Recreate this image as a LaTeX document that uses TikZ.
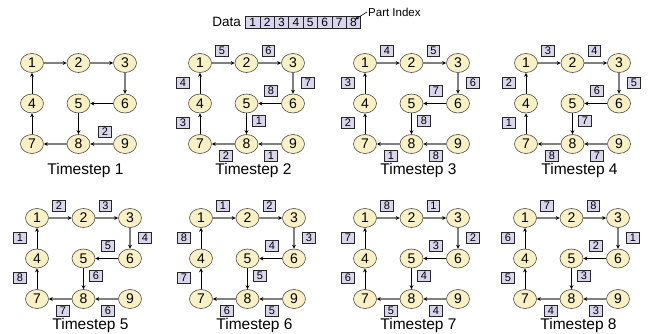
\documentclass[tikz,border=0pt]{standalone}
\usepackage{fontspec}
\setmainfont{Liberation Sans}
\usetikzlibrary{arrows.meta,shapes.geometric}
\definecolor{nodefill}{HTML}{F9F0C4}
\definecolor{boxfill}{HTML}{D9D5EC}
\tikzset{
  vtx/.style={ellipse, draw=black!70, fill=nodefill, line width=0.6pt,
    minimum width=23pt, minimum height=19pt, inner sep=0pt,
    font=\fontsize{14}{14}\selectfont},
  part/.style={draw=black!85, fill=boxfill, line width=0.6pt,
    minimum width=12.5pt, minimum height=10.5pt, inner sep=0pt,
    font=\fontsize{11}{11}\selectfont},
  dpart/.style={part, minimum width=14.4pt, minimum height=12pt,
    font=\fontsize{12}{12}\selectfont},
  gedge/.style={draw=black!50, line width=1.4pt,
    -{Stealth[black,length=4pt,width=4pt]}},
  bedge/.style={draw=black, line width=0.8pt,
    -{Stealth[black,length=4pt,width=4pt]}},
  ttl/.style={font=\fontsize{15.5}{16}\selectfont, inner sep=0pt},
}
\newcommand\mypanel[4]{%
  \gdef\curid{#1}\gdef\curx{#2}\gdef\cury{#3}%
  \begin{scope}[shift={(#2,#3)}]
    \node[vtx] (#1n1) at (0,0) {1};
    \node[vtx] (#1n2) at (46.5,0) {2};
    \node[vtx] (#1n3) at (93,0) {3};
    \node[vtx] (#1n4) at (0,40.5) {4};
    \node[vtx] (#1n5) at (46.5,40.5) {5};
    \node[vtx] (#1n6) at (93,40.5) {6};
    \node[vtx] (#1n7) at (0,81) {7};
    \node[vtx] (#1n8) at (46.5,81) {8};
    \node[vtx] (#1n9) at (93,81) {9};
    \draw[gedge] (#1n1) -- (#1n2);
    \draw[gedge] (#1n2) -- (#1n3);
    \draw[gedge] (#1n3) -- (#1n6);
    \draw[bedge] (#1n6) -- (#1n5);
    \draw[bedge] (#1n5) -- (#1n8);
    \draw[gedge] (#1n9) -- (#1n8);
    \draw[gedge] (#1n8) -- (#1n7);
    \draw[bedge] (#1n7) -- (#1n4);
    \draw[bedge] (#1n4) -- (#1n1);
    \node[ttl] (#1t) at (53.5,107.5) {Timestep #4};
  \end{scope}}
\newcommand\mylabels[9]{%
  \begin{scope}[shift={(\curx,\cury)}]
    \node[part] (\curid la) at (22,-12) {#1};
    \node[part] (\curid lb) at (68.5,-12) {#2};
    \node[part] (\curid lc) at (108,20) {#3};
    \node[part] (\curid ld) at (71,28) {#4};
    \node[part] (\curid le) at (-17,20) {#5};
    \node[part] (\curid lf) at (-17,60) {#6};
    \node[part] (\curid lg) at (59,58) {#7};
    \node[part] (\curid lh) at (26,93) {#8};
    \node[part] (\curid li) at (71,93) {#9};
  \end{scope}}
\begin{document}
\begin{tikzpicture}[x=1pt,y=-1pt]
\useasboundingbox (0,0) rectangle (649,334);
% data bar
\node[font=\fontsize{13.5}{14}\selectfont, anchor=east, inner sep=0pt] (data) at (241,22) {Data};
\foreach \i in {1,...,8} {
  \node[dpart] (d\i) at ({245.5+14.4*\i-7.2},22) {\i};
}
\node[font=\fontsize{11.5}{12}\selectfont, anchor=west, inner sep=1pt] (pidx) at (367,12) {Part Index};
\coordinate (ptip) at (355,19.5);
\draw[line width=0.6pt, -{Stealth[length=4pt,width=3.5pt]}] (pidx.west) -- (ptip);
% panels
\mypanel{pa}{32}{63}{1}
\node[part] (pal) at (105,132) {2};
\mypanel{pb}{200}{63}{2}
\mylabels{5}{6}{7}{8}{4}{3}{1}{2}{1}
\mypanel{pc}{365}{63}{3}
\mylabels{4}{5}{6}{7}{3}{2}{8}{1}{8}
\mypanel{pd}{526}{63}{4}
\mylabels{3}{4}{5}{6}{2}{1}{7}{8}{7}
\mypanel{pe}{37}{218}{5}
\mylabels{2}{3}{4}{5}{1}{8}{6}{7}{6}
\mypanel{pf}{201}{218}{6}
\mylabels{1}{2}{3}{4}{8}{7}{5}{6}{5}
\mypanel{pg}{365}{218}{7}
\mylabels{8}{1}{2}{3}{7}{6}{4}{5}{4}
\mypanel{ph}{525}{218}{8}
\mylabels{7}{8}{1}{2}{6}{5}{3}{4}{3}
\end{tikzpicture}
\end{document}
